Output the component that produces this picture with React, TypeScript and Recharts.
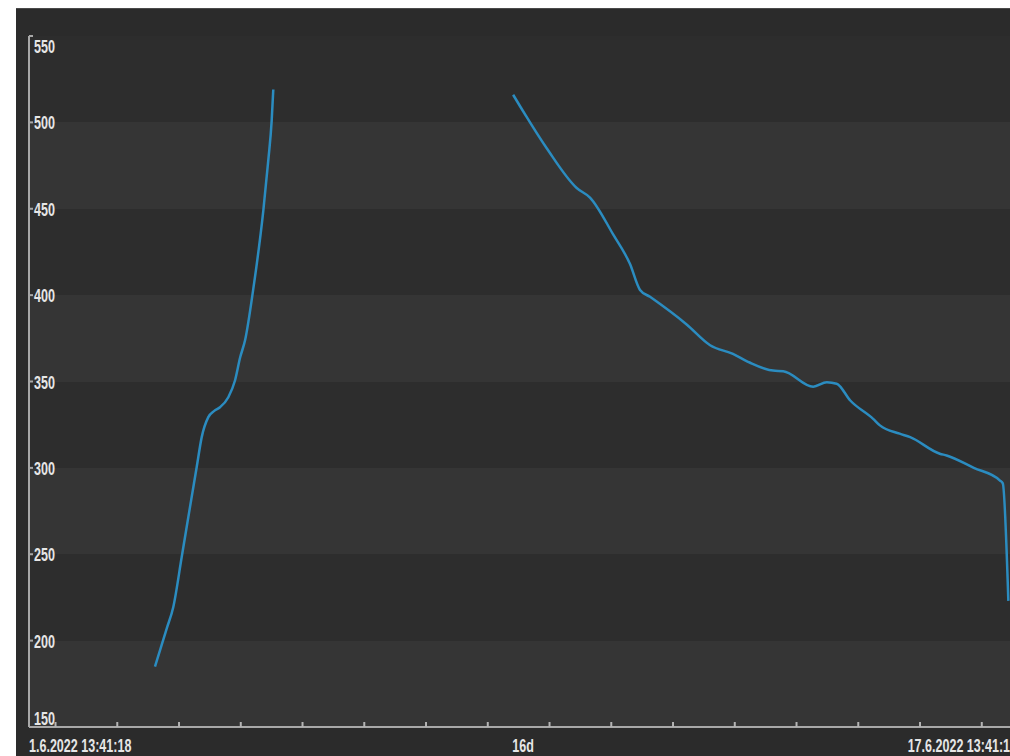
import React from 'react';
import { LineChart, Line, XAxis, YAxis, CartesianGrid } from 'recharts';

// days elapsed since 1.6.2022 13:41:18
const rampDays = [2.04, 2.23, 2.337, 2.473, 2.607, 2.716, 2.797, 2.904, 3.0, 3.093, 3.228, 3.336, 3.42, 3.5, 3.63, 3.795, 3.875, 3.93, 3.956];
const rampValues = [185, 207, 219.5, 248.4, 277.3, 300.5, 317.8, 329.4, 333, 335.1, 340.9, 350.6, 364, 374, 403, 449, 478, 501, 519];

const decayDays = [7.84, 8.384, 8.87, 9.085, 9.462, 9.733, 9.895, 10.057, 10.65, 11.03, 11.4, 11.67, 12.05, 12.215, 12.7, 12.92, 13.08, 13.3, 13.67, 13.78, 14.1, 14.27, 14.75, 14.86, 15.3, 15.72, 15.77, 15.86];
const decayValues = [516, 485, 462, 456.5, 435, 418, 403, 399, 383, 371, 366, 361, 356.3, 356, 347, 349.6, 348.7, 339, 328.4, 324.6, 319.8, 317.8, 308.2, 307.2, 300, 292.8, 291, 223];

const gapDay = 5.9;

const yTicks = [150, 200, 250, 300, 350, 400, 450, 500, 550];
const midnightTicks = [0.4296, 1.4296, 2.4296, 3.4296, 4.4296, 5.4296, 6.4296, 7.4296, 8.4296, 9.4296, 10.4296, 11.4296, 12.4296, 13.4296, 14.4296, 15.4296];
const labelTicks = [0, 8, 16];
const xLabels = ['1.6.2022 13:41:18', '16d', '17.6.2022 13:41:18'];

const data: { t: number; v: number | null }[] = [
  ...rampDays.map((t, i) => ({ t, v: rampValues[i] })),
  { t: gapDay, v: null },
  ...decayDays.map((t, i) => ({ t, v: decayValues[i] })),
];

const allXTicks = [...labelTicks, ...midnightTicks].sort((a, b) => a - b);

const FONT = "'Liberation Sans', Arial, sans-serif";
const TEXT_FILL = '#e6e6e6';
const FS = 19;
const SX = 0.66;

const XTick = (props: any) => {
  const { x, y, payload } = props;
  const idx = labelTicks.indexOf(payload.value);
  if (idx >= 0) {
    const anchor = idx === 0 ? 'start' : idx === 1 ? 'middle' : 'end';
    return (
      <g transform={`translate(${x},${y + 25}) scale(${SX},1)`}>
        <text x={0} y={0} textAnchor={anchor} fill={TEXT_FILL} fontFamily={FONT} fontWeight="bold" fontSize={FS}>
          {xLabels[idx]}
        </text>
      </g>
    );
  }
  return <line x1={x} y1={y} x2={x} y2={y - 5} stroke="#b4b4b4" strokeWidth={2} />;
};

const YTick = (props: any) => {
  const { x, y, payload } = props;
  let yy = y;
  if (payload.value === 550) yy = y + 10;
  if (payload.value === 150) yy = y - 9;
  return (
    <g transform={`translate(${x + 1},${yy + 7}) scale(${SX},1)`}>
      <text x={0} y={0} textAnchor="start" fill={TEXT_FILL} fontFamily={FONT} fontWeight="bold" fontSize={FS}>
        {payload.value}
      </text>
    </g>
  );
};

export default function App() {
  return (
    <div
      style={{
        position: 'fixed',
        left: 16,
        top: 8,
        width: 994,
        height: 748,
        overflow: 'hidden',
        background: '#2b2b2b',
        borderTop: '1px solid #4a4a4a',
        boxSizing: 'border-box',
      }}
    >
      <LineChart width={1010} height={747} data={data} margin={{ top: 27, left: 13, right: 9, bottom: 0 }}>
        <CartesianGrid
          vertical={false}
          horizontal={true}
          stroke="none"
          horizontalFill={['#2d2d2d', '#353535']}
          fillOpacity={1}
        />
        <XAxis
          dataKey="t"
          type="number"
          domain={[0, 16]}
          ticks={allXTicks}
          interval={0}
          height={29}
          tickSize={0}
          tickMargin={0}
          tickLine={false}
          axisLine={{ stroke: '#a8a8a8', strokeWidth: 2 }}
          tick={<XTick />}
          allowDataOverflow
        />
        <YAxis
          type="number"
          domain={[150, 550]}
          ticks={yTicks}
          interval={0}
          mirror
          tickSize={4}
          tickMargin={0}
          tickLine={{ stroke: '#a8a8a8', strokeWidth: 2 }}
          axisLine={{ stroke: '#a8a8a8', strokeWidth: 2 }}
          tick={<YTick />}
          allowDataOverflow
        />
        <Line
          dataKey="v"
          type="monotone"
          stroke="#2b8cc0"
          strokeWidth={2.5}
          dot={false}
          connectNulls={false}
          isAnimationActive={false}
        />
      </LineChart>
    </div>
  );
}
